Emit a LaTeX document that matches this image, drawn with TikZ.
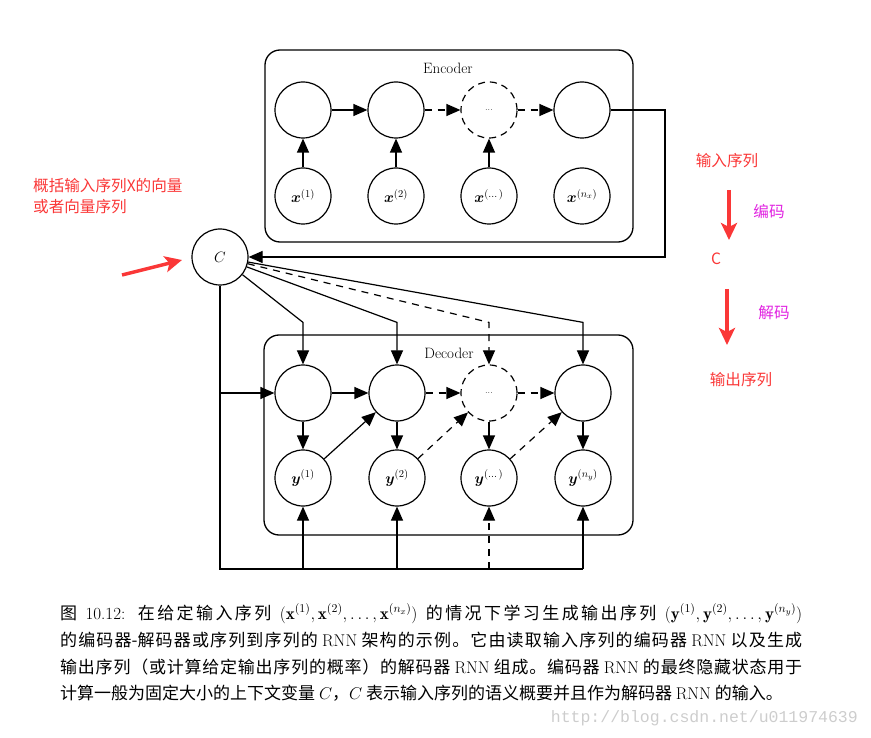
\RequirePackage{fix-cm}
\documentclass[tikz,border=0pt]{standalone}
\usepackage{amsmath,bm}
\usepackage{fontspec}
\newfontfamily\cjk{Noto Sans CJK SC}
\newfontfamily\webfont{Liberation Mono}
\usetikzlibrary{arrows.meta}

% espacement extensible entre ideogrammes (pour justifier la legende)
\newXeTeXintercharclass\hanclass
\newcount\hanidx
\hanidx="4E00
\loop\ifnum\hanidx<"A000 \XeTeXcharclass\hanidx=\hanclass \advance\hanidx by 1 \repeat
\XeTeXcharclass"3002=\hanclass
\XeTeXcharclass"FF0C=\hanclass
\XeTeXcharclass"FF08=\hanclass
\XeTeXcharclass"FF09=\hanclass
\XeTeXinterchartoks\hanclass\hanclass={\hskip 0pt plus 0.3em\relax}
\XeTeXinterchartokenstate=1

\definecolor{annored}{RGB}{250,55,55}
\definecolor{annomag}{RGB}{225,35,225}
\definecolor{urlgray}{RGB}{205,205,205}
\newcommand\lat[1]{{\rmfamily #1}}

\begin{document}
\begin{tikzpicture}[x=1pt, y=-1pt,
    % Styles des cellules
    cell/.style={circle, draw, line width=1.2pt, minimum size=56pt, inner sep=0pt,
                 font=\fontsize{15}{17}\selectfont},
    ghost/.style={cell, dash pattern=on 7pt off 5pt},
    bloc/.style={draw, line width=1.3pt, rounded corners=15pt},
    blocname/.style={font=\fontsize{15}{17}\selectfont},
    % Style des fleches
    arrow/.style={-{Triangle[length=14pt,width=12pt]}, line width=1.2pt},
    dasharrow/.style={arrow, dash pattern=on 7pt off 6pt},
    link/.style={line width=1.2pt},
    % Style des annotations
    annotxt/.style={font=\cjk\fontsize{15.6}{21}\selectfont, text=annored, inner sep=0pt},
    annomagtxt/.style={annotxt, text=annomag},
    redarrow/.style={-{Stealth[length=17pt,width=16pt,inset=4pt]}, line width=3.5pt, annored},
    % Style de la legende
    captxt/.style={font=\cjk\fontsize{17}{20}\selectfont, anchor=base west, inner sep=0pt}
]
\useasboundingbox (0,0) rectangle (871,738);

% ==========================================
% ENCODEUR
% ==========================================
\node[bloc, minimum width=368pt, minimum height=192pt] (encbox) at (449,146) {};
\node[blocname] (encname) at (448,68) {Encoder};

\node[cell] (eh1) at (303,110) {};
\node[cell] (eh2) at (396,110) {};
\node[ghost] (eh3) at (489,110) {\fontsize{9}{10}\selectfont ...};
\node[cell] (eh4) at (582,110) {};

\node[cell] (ex1) at (303,196) {$\bm{x}^{(1)}$};
\node[cell] (ex2) at (396,196) {$\bm{x}^{(2)}$};
\node[cell] (ex3) at (489,196) {$\bm{x}^{(\dots)}$};
\node[cell] (ex4) at (582,196) {$\bm{x}^{(n_x)}$};

\draw[arrow] (eh1) -- (eh2);
\draw[dasharrow] (eh2) -- (eh3);
\draw[dasharrow] (eh3) -- (eh4);
\draw[arrow] (ex1) -- (eh1);
\draw[arrow] (ex2) -- (eh2);
\draw[arrow] (ex3) -- (eh3);

% ==========================================
% CONTEXTE C
% ==========================================
\node[cell] (C) at (220,257) {$C$};
\coordinate (eout) at (665,257);
\draw[arrow] (eh4) -| (eout) -- (C);

% ==========================================
% DECODEUR
% ==========================================
\node[bloc, minimum width=369pt, minimum height=200pt] (decbox) at (448.5,435) {};
\node[blocname] (decname) at (449,353) {Decoder};

\node[cell] (dh1) at (303,393) {};
\node[cell] (dh2) at (397,393) {};
\node[ghost] (dh3) at (489,393) {\fontsize{9}{10}\selectfont ...};
\node[cell] (dh4) at (583,393) {};

\node[cell] (dy1) at (303,478) {$\bm{y}^{(1)}$};
\node[cell] (dy2) at (397,478) {$\bm{y}^{(2)}$};
\node[cell] (dy3) at (489,478) {$\bm{y}^{(\dots)}$};
\node[cell] (dy4) at (583,478) {$\bm{y}^{(n_y)}$};

\draw[arrow] (dh1) -- (dh2);
\draw[dasharrow] (dh2) -- (dh3);
\draw[dasharrow] (dh3) -- (dh4);
\draw[arrow] (dh1) -- (dy1);
\draw[arrow] (dh2) -- (dy2);
\draw[arrow] (dh3) -- (dy3);
\draw[arrow] (dh4) -- (dy4);
\draw[arrow] (dy1) -- (dh2);
\draw[dasharrow] (dy2) -- (dh3);
\draw[dasharrow] (dy3) -- (dh4);

% C vers chaque etat du decodeur
\draw[arrow] (C) -- ([yshift=42pt]dh1.north) -- (dh1);
\draw[arrow] (C) -- ([yshift=42pt]dh2.north) -- (dh2);
\draw[dasharrow] (C) -- ([yshift=42pt]dh3.north) -- (dh3);
\draw[arrow] (C) -- ([yshift=42pt]dh4.north) -- (dh4);

% C en entree par le bas
\coordinate (base) at (220,569);
\draw[link] (C) -- (base) -- (dy4 |- base);
\draw[arrow] (C |- dh1) -- (dh1);
\draw[arrow] (dy1 |- base) -- (dy1);
\draw[arrow] (dy2 |- base) -- (dy2);
\draw[dasharrow] (dy3 |- base) -- (dy3);
\draw[arrow] (dy4 |- base) -- (dy4);

% ==========================================
% ANNOTATIONS
% ==========================================
\node[annotxt, align=left, anchor=west] (resume) at (33,196.5) {概括输入序列X的向量\\或者向量序列};
\coordinate (rtail) at (122,275);
\coordinate (rhead) at (182,260);
\draw[redarrow] (rtail) -- (rhead);

\node[annotxt] (entree) at (727,161) {输入序列};
\node[annomagtxt] (encmot) at (769,211) {编码};
\node[annotxt] (ctxt) at (716,259) {C};
\node[annomagtxt] (decmot) at (774,313) {解码};
\node[annotxt] (sortie) at (741,380) {输出序列};
\coordinate (a1s) at (729,190);
\coordinate (a1e) at (729,240);
\coordinate (a2s) at (727,289);
\coordinate (a2e) at (727,345);
\draw[redarrow] (a1s) -- (a1e);
\draw[redarrow] (a2s) -- (a2e);

% ==========================================
% LEGENDE
% ==========================================
\node[captxt] (cap1) at (60,619) {\spaceskip=0.33em plus 0.35em\relax\makebox[742pt][s]{图 \lat{10.12:} 在给定输入序列 $(\mathbf{x}^{(1)}, \mathbf{x}^{(2)}, \ldots, \mathbf{x}^{(n_x)})$ 的情况下学习生成输出序列 $(\mathbf{y}^{(1)}, \mathbf{y}^{(2)}, \ldots, \mathbf{y}^{(n_y)})$}};
\node[captxt] (cap2) at (60,646) {\makebox[742pt][s]{的编码器-解码器或序列到序列的 \lat{RNN} 架构的示例。它由读取输入序列的编码器 \lat{RNN} 以及生成}};
\node[captxt] (cap3) at (60,673) {\makebox[742pt][s]{输出序列（或计算给定输出序列的概率）的解码器 \lat{RNN} 组成。编码器 \lat{RNN} 的最终隐藏状态用于}};
\node[captxt] (cap4) at (60,699) {计算一般为固定大小的上下文变量 $C$，$C$ 表示输入序列的语义概要并且作为解码器 \lat{RNN} 的输入。};
\node[font=\webfont\fontsize{16.5}{18}\selectfont, text=urlgray, anchor=base east, inner sep=0pt] (url) at (858,722) {http://blog.csdn.net/u011974639};

\end{tikzpicture}
\end{document}
